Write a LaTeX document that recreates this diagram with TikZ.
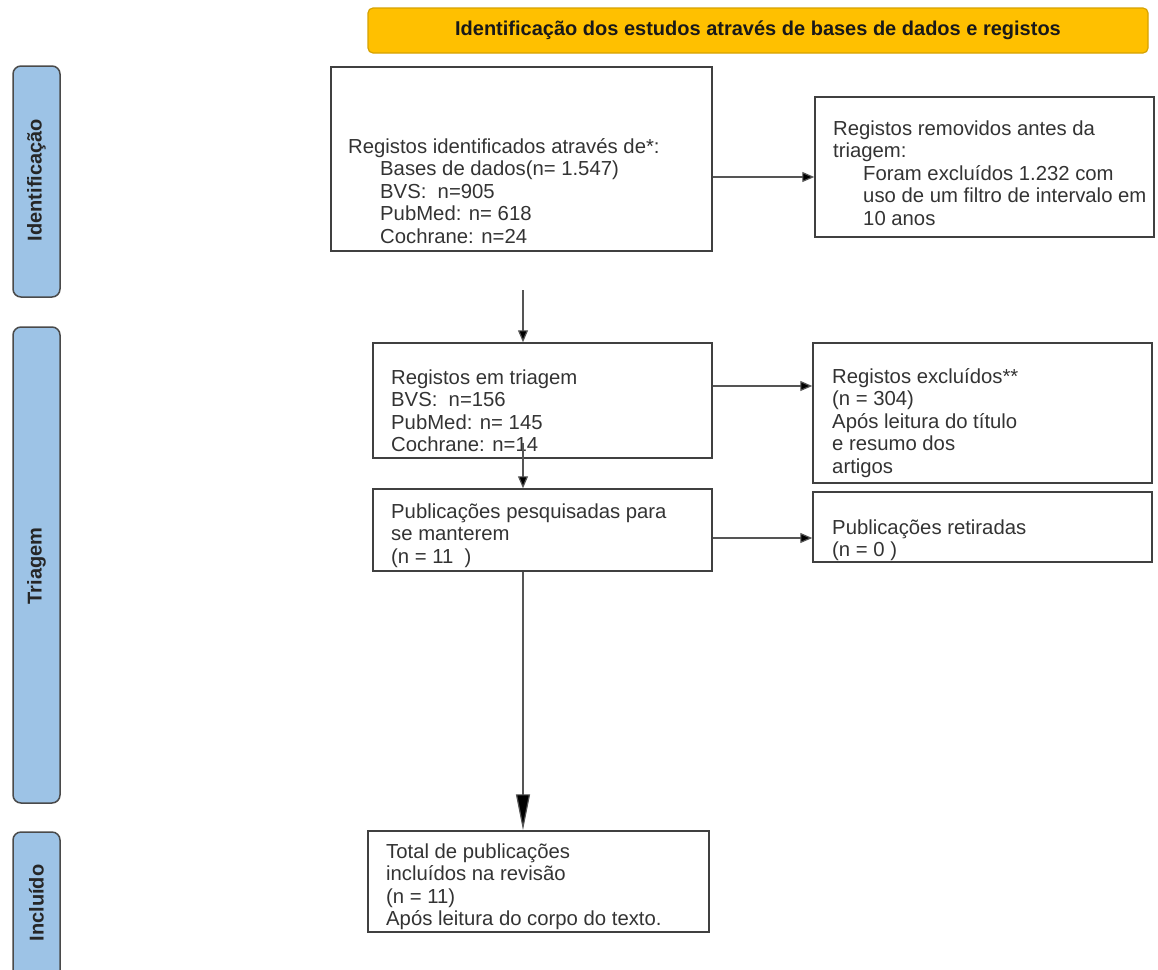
\documentclass[tikz,border=0pt]{standalone}
\usepackage{fontspec}
\setmainfont{Liberation Sans}
\usetikzlibrary{arrows.meta}
\definecolor{bannerfill}{HTML}{FFC000}
\definecolor{bannerdraw}{HTML}{D6A200}
\definecolor{sidefill}{HTML}{9DC3E6}
\definecolor{sidedraw}{HTML}{4A4A4A}
\definecolor{boxdraw}{HTML}{404040}
\definecolor{txt}{HTML}{333333}
\definecolor{linec}{HTML}{555555}
\tikzset{
  box/.style={draw=boxdraw, line width=1.5pt, inner sep=0pt},
  sidebar/.style={draw=sidedraw, fill=sidefill, line width=1.5pt, rounded corners=8pt},
  sidelabel/.style={rotate=90, font=\fontsize{20}{22}\selectfont\bfseries, text=black!85},
  btxt/.style={anchor=north west, inner sep=0pt, align=left, text=txt, font=\fontsize{20.3}{22.5}\selectfont},
  arr/.style={draw=linec, line width=1.2pt, -{Triangle[length=12pt,width=10pt,fill=black]}},
  bigarr/.style={draw=linec, line width=1.2pt, -{Triangle[length=36pt,width=14pt,fill=black]}}
}
\newcommand{\fl}{\rule{0pt}{19pt}}
\begin{document}
\begin{tikzpicture}[x=1pt,y=-1pt]
\useasboundingbox (0,0) rectangle (1158,969);
% banner
\node[draw=bannerdraw, fill=bannerfill, line width=1.2pt, rounded corners=5pt, minimum width=780pt, minimum height=45pt, inner sep=0pt, text=black!90, font=\fontsize{20}{22}\selectfont\bfseries] (banner) at (758,30.5) {Identificação dos estudos através de bases de dados e registos};
% side bars
\draw[sidebar] (13,66) rectangle (60,297);
\node[sidelabel] (lid) at (36.5,180) {Identificação};
\draw[sidebar] (13,327) rectangle (60,803);
\node[sidelabel] (ltr) at (36.5,566) {Triagem};
\draw[sidebar] (13,832) rectangle (60,990);
\node[sidelabel] (lin) at (36.5,903) {Incluído};
% boxes
\node[box, minimum width=381pt, minimum height=184pt] (b1) at (521.5,159) {};
\node[box, minimum width=339pt, minimum height=140pt] (b2) at (984.5,167) {};
\node[box, minimum width=339pt, minimum height=115pt] (b3) at (542.5,400.5) {};
\node[box, minimum width=339pt, minimum height=82pt] (b4) at (542.5,530) {};
\node[box, minimum width=339pt, minimum height=140pt] (b5) at (982.5,413) {};
\node[box, minimum width=339pt, minimum height=70pt] (b6) at (982.5,527) {};
\node[box, minimum width=341pt, minimum height=101pt] (b7) at (538.5,881.5) {};
% texts
\node[btxt] (t1) at (348,134) {\fl Registos identificados através de*:\\
\hspace*{32pt}Bases de dados(n= 1.547)\\
\hspace*{32pt}BVS:\ \ n=905\\
\hspace*{32pt}PubMed: n= 618\\
\hspace*{32pt}Cochrane: n=24};
\node[btxt] (t2) at (833,116) {\fl Registos removidos antes da\\
triagem:\\
\hspace*{30pt}Foram excluídos 1.232 com\\
\hspace*{30pt}uso de um filtro de intervalo em\\
\hspace*{30pt}10 anos};
\node[btxt] (t3) at (391,365) {\fl Registos em triagem\\
BVS:\ \ n=156\\
PubMed: n= 145\\
Cochrane: n=14};
\node[btxt] (t4) at (391,499) {\fl Publicações pesquisadas para\\
se manterem\\
(n = 11\ \ )};
\node[btxt] (t5) at (832,364) {\fl Registos excluídos**\\
(n = 304)\\
Após leitura do título\\
e resumo dos\\
artigos};
\node[btxt] (t6) at (832,515) {\fl Publicações retiradas\\
(n = 0 )};
\node[btxt] (t7) at (386,839) {\fl Total de publicações\\
incluídos na revisão\\
(n = 11)\\
Após leitura do corpo do texto.};
% connectors
\coordinate (c1) at (523,290);
\draw[arr] (b1.east |- 0,177) -- (b2.west |- 0,177);
\draw[arr] (c1) -- (c1 |- b3.north);
\draw[arr] ([yshift=16pt]b3.south -| c1) -- (c1 |- b4.north);
\draw[arr] (b3.east |- 0,386) -- (b5.west |- 0,386);
\draw[arr] (b4.east |- 0,538) -- (b6.west |- 0,538);
\draw[bigarr] (b4.south -| c1) -- (c1 |- b7.north);
\end{tikzpicture}
\end{document}
